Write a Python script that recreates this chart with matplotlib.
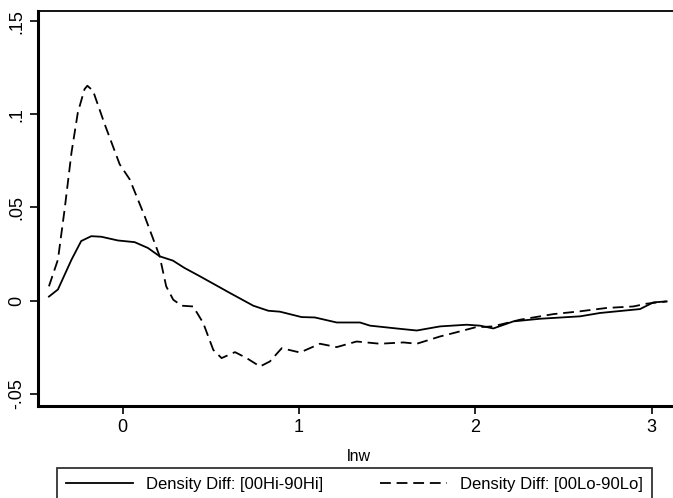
import matplotlib
matplotlib.use("Agg")
import matplotlib.pyplot as plt

plt.rcParams['font.family'] = ['Liberation Sans', 'DejaVu Sans']

# Solid: Density Diff [00Hi-90Hi]
hi_x = [-0.418, -0.367, -0.29, -0.235, -0.178, -0.121, -0.027, 0.068, 0.143, 0.21,
        0.285, 0.35, 0.438, 0.609, 0.741, 0.826, 0.892, 1.015, 1.09, 1.214, 1.346,
        1.403, 1.573, 1.668, 1.8, 1.951, 2.027, 2.102, 2.216, 2.367, 2.594, 2.707,
        2.934, 3.01, 3.085]
hi_y = [0.0022, 0.006, 0.022, 0.032, 0.0346, 0.0343, 0.0323, 0.0314, 0.0283, 0.0238,
        0.0215, 0.0176, 0.0131, 0.0041, -0.0027, -0.0054, -0.0059, -0.0088, -0.009,
        -0.0117, -0.0117, -0.0134, -0.0151, -0.016, -0.0138, -0.0129, -0.0134, -0.0149,
        -0.0111, -0.0097, -0.0084, -0.0066, -0.0045, -0.0009, -0.0004]

# Dashed: Density Diff [00Lo-90Lo]
lo_x = [-0.418, -0.367, -0.329, -0.29, -0.254, -0.216, -0.2, -0.168, -0.102, -0.017,
        0.04, 0.125, 0.21, 0.247, 0.287, 0.335, 0.4, 0.457, 0.514, 0.561, 0.637, 0.703,
        0.779, 0.835, 0.902, 1.006, 1.119, 1.214, 1.327, 1.459, 1.592, 1.668, 1.8,
        1.875, 2.0, 2.1, 2.254, 2.443, 2.594, 2.745, 2.896, 2.972, 3.085]
lo_y = [0.0077, 0.022, 0.049, 0.0795, 0.101, 0.1135, 0.1153, 0.1126, 0.0947, 0.0732,
        0.0651, 0.0453, 0.0238, 0.0077, 0.0005, -0.0027, -0.0031, -0.012, -0.0264,
        -0.0308, -0.0276, -0.0308, -0.0353, -0.0326, -0.0255, -0.0278, -0.0231, -0.0249,
        -0.0219, -0.0231, -0.0224, -0.0231, -0.0192, -0.0174, -0.0143, -0.0138, -0.0102,
        -0.0072, -0.0057, -0.0039, -0.0031, -0.0016, -0.0004]

x_ticks = [0, 1, 2, 3]
x_ticklabels = ["0", "1", "2", "3"]
y_ticks = [-0.05, 0, 0.05, 0.1, 0.15]
y_ticklabels = ["-.05", "0", ".05", ".1", ".15"]
labels = ["Density Diff: [00Hi-90Hi]", "Density Diff: [00Lo-90Lo]"]

W, H = 673, 498
fig = plt.figure(figsize=(W / 100, H / 100), dpi=100)
ax = fig.add_axes([38 / W, (H - 406) / H, (W - 38) / W + 0.01, (406 - 11) / H])

l1, = ax.plot(hi_x, hi_y, color='black', lw=1.3, solid_joinstyle='round')
l2, = ax.plot(lo_x, lo_y, color='black', lw=1.3, dashes=(6, 3.2))

ax.set_xlim(-0.480, 3.121 + 0.01 * W / 176.3)
ax.set_ylim(-0.0565, 0.1554)
ax.set_xticks(x_ticks)
ax.set_xticklabels(x_ticklabels, fontsize=13)
ax.set_yticks(y_ticks)
ax.set_yticklabels(y_ticklabels, fontsize=13, rotation=90, va='center')
ax.tick_params(direction='out', length=6, width=1.2, pad=3)
ax.spines['left'].set_linewidth(2.2)
ax.spines['bottom'].set_linewidth(2.2)
ax.spines['top'].set_linewidth(1.3)
ax.spines['right'].set_visible(False)
ax.set_xlabel("lnw", fontsize=11.5, labelpad=10)

leg = fig.legend([l1, l2], labels, ncol=2, loc='upper left',
                 bbox_to_anchor=(57 / W, 1 - 468 / H),
                 fontsize=12, handlelength=4.0, frameon=True,
                 fancybox=False, edgecolor='black', borderpad=0.55,
                 columnspacing=3.4, handletextpad=0.8, borderaxespad=0)
leg.get_frame().set_linewidth(1.3)

fig.savefig("out.png", dpi=100)
